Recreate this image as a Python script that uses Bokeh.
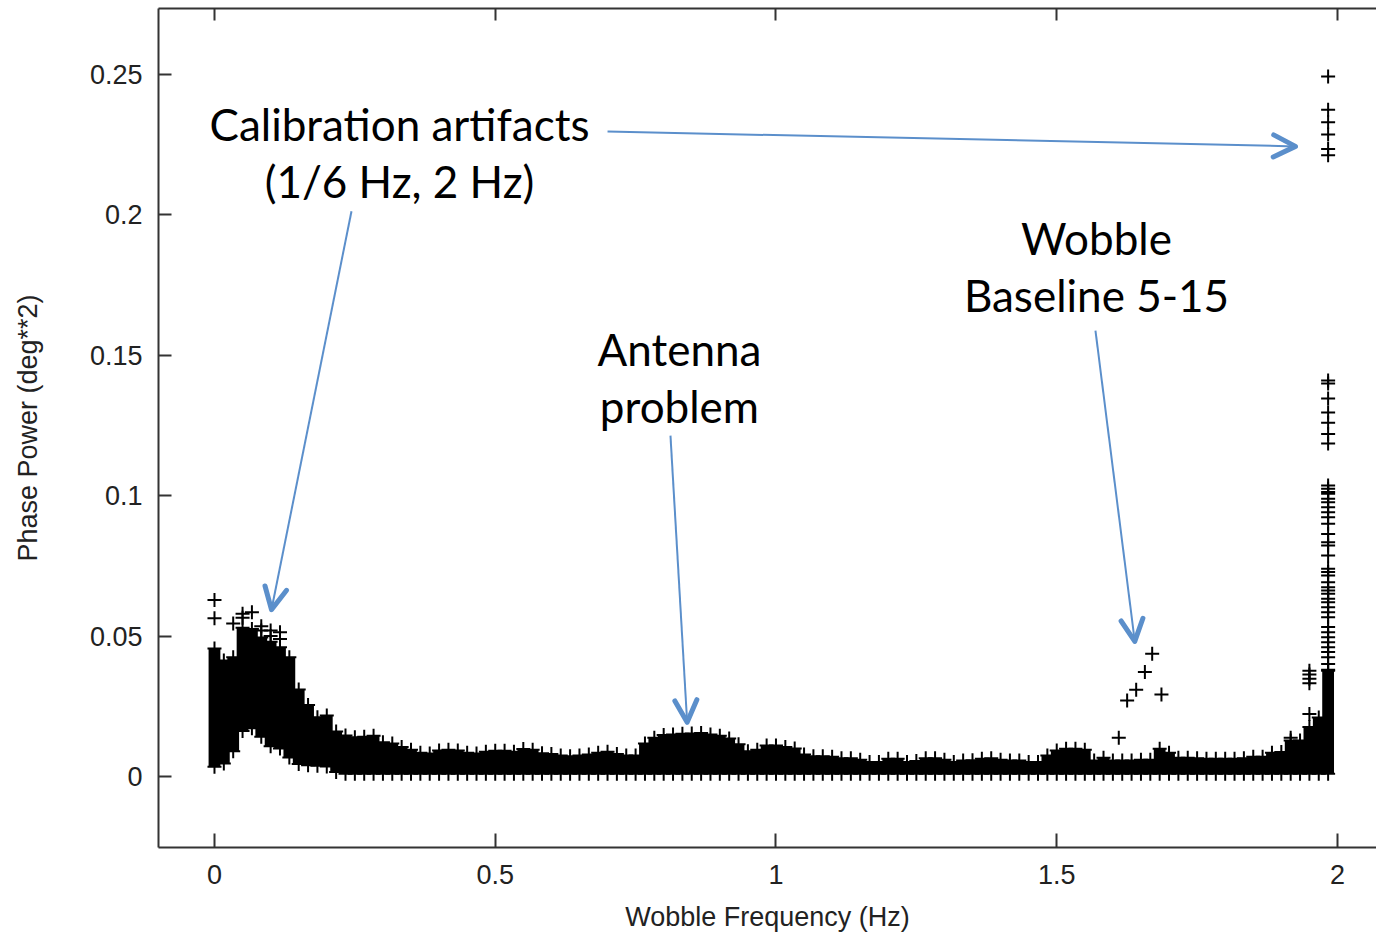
import numpy as np
from bokeh.plotting import figure
from bokeh.models import ColumnDataSource, FixedTicker, LinearAxis, Arrow, OpenHead
from bokeh.core.properties import value
from bokeh.embed import file_html
from bokeh.resources import INLINE

# ---------------- data ----------------
BINS_PER_HZ = 60
bin_index = list(range(120))
freq = [k / BINS_PER_HZ for k in bin_index]

# upper / lower envelope of the dense "+" band for every frequency bin
band_hi = [
    0.0456, 0.0413, 0.0425, 0.0530, 0.0525, 0.0495, 0.0480, 0.0460, 0.0425, 0.0310,
    0.0255, 0.0211, 0.0217, 0.0160, 0.0146, 0.0140, 0.0142, 0.0145, 0.0122, 0.0118,
    0.0105, 0.0095, 0.0085, 0.0082, 0.0093, 0.0095, 0.0093, 0.0085, 0.0082, 0.0088,
    0.0092, 0.0092, 0.0088, 0.0098, 0.0095, 0.0083, 0.0080, 0.0075, 0.0072, 0.0075,
    0.0078, 0.0085, 0.0088, 0.0080, 0.0075, 0.0075, 0.0118, 0.0138, 0.0148, 0.0150,
    0.0152, 0.0153, 0.0155, 0.0150, 0.0145, 0.0135, 0.0115, 0.0090, 0.0095, 0.0110,
    0.0110, 0.0105, 0.0100, 0.0078, 0.0072, 0.0072, 0.0070, 0.0065, 0.0065, 0.0060,
    0.0052, 0.0052, 0.0063, 0.0063, 0.0052, 0.0055, 0.0065, 0.0065, 0.0060, 0.0052,
    0.0057, 0.0058, 0.0063, 0.0065, 0.0060, 0.0057, 0.0057, 0.0052, 0.0052, 0.0075,
    0.0093, 0.0099, 0.0099, 0.0095, 0.0057, 0.0067, 0.0057, 0.0057, 0.0057, 0.0060,
    0.0060, 0.0099, 0.0085, 0.0067, 0.0067, 0.0065, 0.0063, 0.0063, 0.0063, 0.0063,
    0.0065, 0.0070, 0.0070, 0.0085, 0.0087, 0.0128, 0.0128, 0.0176, 0.0210, 0.0380,
]
band_lo = [
    0.0035, 0.0046, 0.0090, 0.0162, 0.0172, 0.0142, 0.0108, 0.0100, 0.0068, 0.0045,
    0.0040, 0.0038, 0.0036, 0.0016, 0.0010, 0.0010, 0.0010, 0.0010, 0.0010, 0.0010,
    0.0010, 0.0010, 0.0010, 0.0010, 0.0010, 0.0010, 0.0010, 0.0010, 0.0010, 0.0010,
    0.0010, 0.0010, 0.0010, 0.0010, 0.0010, 0.0010, 0.0010, 0.0010, 0.0010, 0.0010,
    0.0010, 0.0010, 0.0010, 0.0010, 0.0010, 0.0010, 0.0010, 0.0010, 0.0010, 0.0010,
    0.0010, 0.0010, 0.0010, 0.0010, 0.0010, 0.0010, 0.0010, 0.0010, 0.0010, 0.0010,
    0.0010, 0.0010, 0.0010, 0.0010, 0.0010, 0.0010, 0.0010, 0.0010, 0.0010, 0.0010,
    0.0010, 0.0010, 0.0010, 0.0010, 0.0010, 0.0010, 0.0010, 0.0010, 0.0010, 0.0010,
    0.0010, 0.0010, 0.0010, 0.0010, 0.0010, 0.0010, 0.0010, 0.0010, 0.0010, 0.0010,
    0.0010, 0.0010, 0.0010, 0.0010, 0.0010, 0.0010, 0.0010, 0.0010, 0.0010, 0.0010,
    0.0010, 0.0010, 0.0010, 0.0010, 0.0010, 0.0010, 0.0010, 0.0010, 0.0010, 0.0010,
    0.0010, 0.0010, 0.0010, 0.0010, 0.0010, 0.0010, 0.0010, 0.0010, 0.0010, 0.0010,
]

# isolated points standing out of the band (bin index, value)
extra_bin = [0, 0, 2, 3, 3, 4, 5, 5, 6, 6, 7, 7, 115,
             117, 117, 117, 117, 117,
             119, 119, 119, 119, 119, 119,
             119, 119, 119, 119, 119, 119, 119]
extra_val = [0.0629, 0.0564, 0.0545, 0.0580, 0.0565, 0.0585, 0.0535, 0.0520, 0.0520, 0.0500,
             0.0514, 0.0490, 0.0138,
             0.0377, 0.0363, 0.0348, 0.0332, 0.0223,
             0.2493, 0.2374, 0.2330, 0.2286, 0.2235, 0.2212,
             0.1410, 0.1400, 0.1346, 0.1296, 0.1260, 0.1220, 0.1186]

# ladder of points in the last bin (2 Hz artifact)
ladder_val = [0.1036, 0.1025, 0.1013, 0.1007, 0.0989, 0.0977, 0.0959, 0.0941, 0.0923, 0.0900,
              0.0864, 0.0834, 0.0823, 0.0787, 0.0740, 0.0728, 0.0716, 0.0692, 0.0674, 0.0662,
              0.0651, 0.0633, 0.0621, 0.0603, 0.0585, 0.0567, 0.0532, 0.0514, 0.0496, 0.0478,
              0.0460, 0.0443, 0.0425, 0.0401, 0.0377]

# Wobble baseline 5-15 points (off the regular grid)
wob_x = [1.6105, 1.6254, 1.6415, 1.6570, 1.6700, 1.6865]
wob_y = [0.0138, 0.0271, 0.0309, 0.0372, 0.0437, 0.0292]

x_ticks = [0, 0.5, 1, 1.5, 2]
x_tick_labels = ["0", "0.5", "1", "1.5", "2"]
y_ticks = [0, 0.05, 0.1, 0.15, 0.2, 0.25]
y_tick_labels = ["0", "0.05", "0.1", "0.15", "0.2", "0.25"]

# annotations (data coordinates)
note_text = ["Calibration artifacts", "(1/6 Hz, 2 Hz)", "Wobble", "Baseline 5-15", "Antenna", "problem"]
note_x = [0.3295, 0.3295, 1.5708, 1.5708, 0.8281, 0.8281]
note_y = [0.2323, 0.2121, 0.1919, 0.1713, 0.1521, 0.1318]

arrow_x0 = [0.700, 0.244, 0.8121, 1.569]
arrow_y0 = [0.2297, 0.2013, 0.1214, 0.1588]
arrow_x1 = [1.9252, 0.1015, 0.8418, 1.639]
arrow_y1 = [0.2244, 0.0594, 0.0193, 0.0481]

# ---------------- figure ----------------
AX = "#333333"
TXT = "#222222"
BLUE = "#5B8FCB"

p = figure(width=1376, height=934, output_backend="svg", toolbar_location=None,
           x_range=(-0.0997, 2.0695), y_range=(-0.02528, 0.2735),
           min_border_left=158, min_border_right=0, min_border_top=8, min_border_bottom=87)
p.outline_line_color = None
p.background_fill_color = "white"
p.border_fill_color = "white"
p.xgrid.visible = False
p.ygrid.visible = False

for ax in (p.xaxis[0], p.yaxis[0]):
    ax.axis_line_color = AX
    ax.axis_line_width = 2
    ax.major_tick_line_color = AX
    ax.major_tick_line_width = 2
    ax.major_tick_out = 0
    ax.minor_tick_in = 0
    ax.minor_tick_out = 0
    ax.major_label_text_font = "Liberation Sans"
    ax.major_label_text_font_size = "27px"
    ax.major_label_text_color = TXT
    ax.axis_label_text_font = "Liberation Sans"
    ax.axis_label_text_font_size = "27px"
    ax.axis_label_text_font_style = "normal"
    ax.axis_label_text_color = TXT

p.xaxis.ticker = FixedTicker(ticks=x_ticks)
p.xaxis.major_label_overrides = {t: l for t, l in zip(x_ticks, x_tick_labels)}
p.xaxis.major_tick_in = 14
p.xaxis.major_label_standoff = 17
p.xaxis.axis_label = "Wobble Frequency (Hz)"
p.xaxis.axis_label_standoff = 15

p.yaxis.ticker = FixedTicker(ticks=y_ticks)
p.yaxis.major_label_overrides = {t: l for t, l in zip(y_ticks, y_tick_labels)}
p.yaxis.major_tick_in = 13
p.yaxis.major_label_standoff = 16
p.yaxis.axis_label = "Phase Power (deg**2)"
p.yaxis.axis_label_standoff = 44

top_axis = LinearAxis(ticker=FixedTicker(ticks=x_ticks),
                      major_label_overrides={t: "" for t in x_ticks},
                      major_label_text_font_size="1px", major_label_standoff=0,
                      major_tick_in=12, major_tick_out=0, minor_tick_in=0, minor_tick_out=0,
                      axis_line_color=AX, axis_line_width=2,
                      major_tick_line_color=AX, major_tick_line_width=2)
p.add_layout(top_axis, "above")

# dense band
band = ColumnDataSource(dict(x=freq, lo=band_lo, hi=band_hi))
p.vbar(x="x", bottom="lo", top="hi", width=0.021, source=band,
       fill_color="black", line_color=None)
MK = dict(marker="cross", size=14, line_width=2, line_color="black")
p.scatter(freq, band_hi, **MK)
p.scatter(freq, band_lo, **MK)

extra_x = [freq[b] for b in extra_bin]
p.scatter(extra_x, extra_val, **MK)
p.scatter([freq[119]] * len(ladder_val), ladder_val, **MK)
p.scatter(wob_x, wob_y, **MK)

# annotations
p.text(x=note_x, y=note_y, text=note_text, text_font=value("Lato"),
       text_font_size="44px", text_color="black", text_align="center",
       text_baseline="alphabetic")
for x0, y0, x1, y1 in zip(arrow_x0, arrow_y0, arrow_x1, arrow_y1):
    p.add_layout(Arrow(x_start=x0, y_start=y0, x_end=x1, y_end=y1,
                       line_color=BLUE, line_width=2,
                       end=OpenHead(size=22, line_color=BLUE, line_width=5,
                                    line_cap="round", line_join="round")))

open("out.html", "w").write(file_html(p, INLINE))
